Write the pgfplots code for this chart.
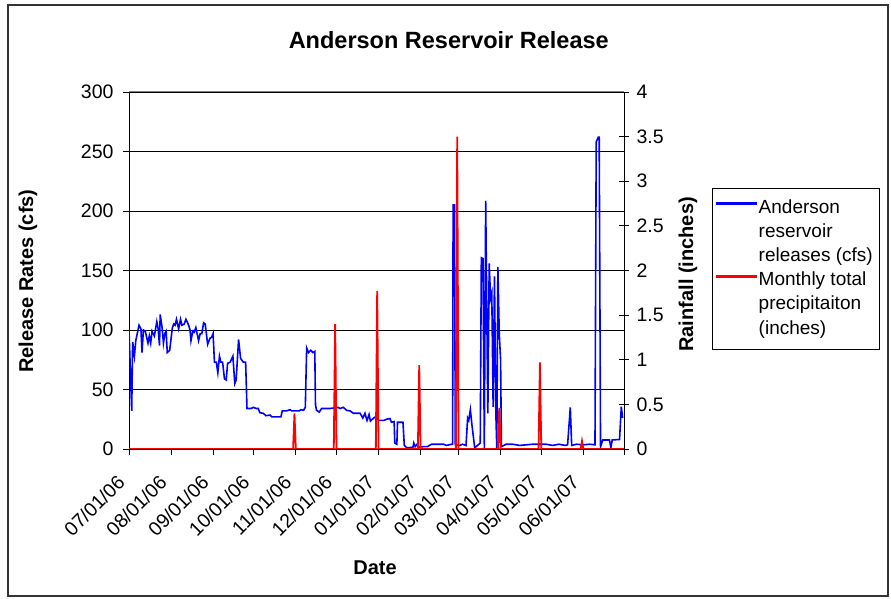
\documentclass[border=0pt]{standalone}
\usepackage{pgfplots}
\pgfplotsset{compat=1.18}
\usepackage{fontspec}
\setmainfont{Liberation Sans}

\begin{document}
\begin{tikzpicture}[x=1bp,y=1bp]
\path[use as bounding box] (0,0) rectangle (891,599);
\draw[line width=1.3bp, black!80] (8,3) rectangle (888,594);
\pgfplotsset{
  every axis/.append style={
    scale only axis, width=495bp, height=357bp,
    at={(129bp,150bp)}, anchor=south west,
    xmin=0, xmax=365,
    /pgf/number format/assume math mode=true,
    tick label style={font=\fontsize{19.5bp}{23bp}\selectfont},
    label style={font=\bfseries\fontsize{20bp}{24bp}\selectfont},
  }
}
% left axis: daily releases
\begin{axis}[
  separate axis lines,
  x axis line style={black!50, line width=1bp},
  y axis line style={black, line width=1bp},
  ymin=0, ymax=300, ytick={0,50,...,300},
  ymajorgrids, grid style={black, line width=0.9bp},
  xtick={0,31,62,92,123,153,184,215,243,274,304,335,365},
  xticklabels={07/01/06,08/01/06,09/01/06,10/01/06,11/01/06,12/01/06,01/01/07,02/01/07,03/01/07,04/01/07,05/01/07,06/01/07,{}},
  xtick pos=left, ytick pos=left,
  tick align=outside, major tick length=6bp,
  tick style={black, line width=0.9bp},
  xticklabel shift=16bp,
  xticklabel style={rotate=45, anchor=east, inner xsep=11bp},
  yticklabel style={xshift=-6bp},
  xlabel={Date},
  xlabel style={at={(axis description cs:0.497,-0.333)}, anchor=center},
  ylabel={Release Rates (cfs)},
  ylabel style={at={(axis description cs:-0.204,0.47)}, anchor=center},
  title={Anderson Reservoir Release},
  title style={at={(axis description cs:0.646,1.129)}, anchor=center,
    font=\bfseries\fontsize{23.5bp}{28bp}\selectfont},
]
\addplot[blue, line width=1.6bp] coordinates {
(0,100) (2,32) (2.7,90) (4,78) (5,91) (7.4,104) (8.8,101) (9.6,81) (10.6,100)
(12,99) (14,89) (15,95) (16,89) (17,99) (18.7,95) (20.5,107) (21.5,101) (22.5,87)
(23,113) (24.4,102) (25.4,89) (26.4,97) (27.4,99) (28.2,81) (30,83) (32,102)
(33,105) (34,104) (35,109) (36.6,101) (38,109) (39,104) (40.7,105) (42,109)
(44,104) (45,100) (45.7,91) (47,99) (48,98) (49.3,102) (51.3,91) (52.5,97)
(53.7,97) (55,106) (56.2,105) (58,88) (59.7,93) (61,94) (62,97) (63,73)
(64.4,73) (65.5,64) (66.7,78) (67.7,73) (69,73) (70.4,59) (71.7,58) (72.7,72)
(74.6,73) (76.6,78) (78,55) (79,58) (80.8,92) (82.3,76) (84.3,73) (86,73)
(87,34) (90,34) (91.6,35) (94,34) (95.3,34) (96.5,30.5) (99,30) (101,28)
(104,28.5) (105.4,27) (109,27) (112,27) (113,32) (116,32) (118.8,33) (120,32)
(125.5,32) (126.7,33) (128.7,32.5) (130,35) (131,85) (132.4,81) (134,83)
(135.6,81) (137,82) (137.5,37) (138.3,32.5) (140.3,31) (142,34) (148,34)
(154.3,35) (155.5,34) (158,35) (160.5,32.5) (163,32) (165.5,30) (168,30)
(170.4,30) (172.4,26) (174,30) (175.5,24) (177,29) (178,23.5) (180.4,26)
(182.4,27.5) (184,24) (188,24) (190,25) (192.4,25.6) (193.5,22.5) (195.5,23)
(196,5) (197.5,4) (198,22.5) (200.5,22.5) (202,22.5) (203,3) (205,1)
(209.4,1.5) (210,5) (211,2) (212.4,4) (213.6,1.5) (217.3,2) (220,2) (223,4)
(232,4) (234,3) (238,4) (238.6,4) (239,205) (240,205) (240.6,3.5) (243.8,3)
(246,4) (248.5,3) (249.7,26) (250.5,24) (251.7,33) (252.7,22) (254.9,1)
(258,4) (259,5) (259.8,160.7) (261,160) (262,1) (263,208.6) (264.6,30)
(265.6,156) (266.6,126.6) (267.5,131) (268.5,35.5) (269.5,145) (270.5,30)
(271.2,1) (272,153) (273,97) (274,75) (274.6,2) (278,4) (283,4) (288,3)
(292.8,3.5) (297.7,4) (302.6,4) (307.5,4) (312.4,3) (317,4) (321.7,3)
(323.4,3.5) (325.4,35) (326.4,3) (330,4) (334.7,3.5) (339.7,4) (343.6,3.5)
(344.5,258) (346,262) (346.7,262) (347.7,2) (349.4,7.6) (354.3,7.6) (355.3,1)
(356.3,7.6) (361.7,8) (363,35.5) (364,26)
};
\end{axis}
% right axis: monthly precipitation
\begin{axis}[
  axis x line=none, axis y line*=right,
  y axis line style={black, line width=1bp},
  ymin=0, ymax=4, ytick={0,0.5,...,4},
  tick align=center, major tick length=10bp,
  tick style={black, line width=0.9bp},
  yticklabel style={xshift=4bp},
  ylabel={Rainfall (inches)},
  ylabel style={at={(axis description cs:1.129,0.489)}, anchor=center},
  legend style={at={(axis description cs:1.178,0.731)}, anchor=north west,
    draw=black, inner ysep=8bp, inner xsep=4bp, row sep=0bp,
    font=\fontsize{19bp}{23bp}\selectfont,
    nodes={text height=14bp, text depth=4.5bp, inner ysep=2.85bp},
    cells={anchor=west}},
  legend image code/.code={\fill[#1] (0bp,4.1bp) rectangle (40bp,5.9bp);},
]
\addlegendimage{blue}
\addlegendentry{Anderson}
\addlegendimage{empty legend}
\addlegendentry{reservoir}
\addlegendimage{empty legend}
\addlegendentry{releases (cfs)}
\addlegendimage{red}
\addlegendentry{Monthly total}
\addlegendimage{empty legend}
\addlegendentry{precipitaiton}
\addlegendimage{empty legend}
\addlegendentry{(inches)}
\addplot[red, line width=1.8bp, forget plot] coordinates {
(0,0) (121,0) (122,0.40) (123,0) (151,0) (152,1.40) (153,0) (182,0) (183,1.77)
(184,0) (213,0) (214,0.94) (215,0) (241,0) (242,3.50) (243,0) (272,0)
(273,0.46) (274,0) (302,0) (303,0.97) (304,0) (333,0) (334,0.09) (335,0) (365,0)
};
\end{axis}
\end{tikzpicture}
\end{document}
